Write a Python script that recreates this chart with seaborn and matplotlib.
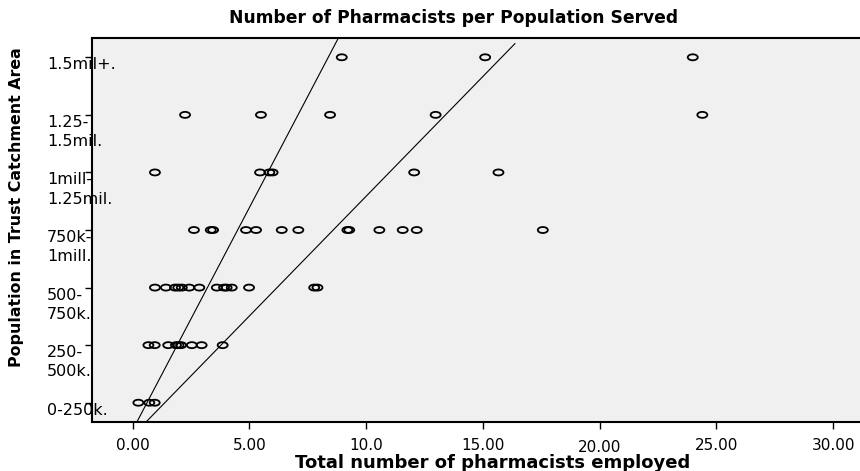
import numpy as np
import pandas as pd
import seaborn as sns
import matplotlib.pyplot as plt
from matplotlib.path import Path
from matplotlib.transforms import Affine2D, ScaledTranslation

# population bands (y categories, bottom to top)
population_bands = ["0-250k.", "250-\n500k.", "500-\n750k.", "750k-\n1mill.",
                    "1mill-\n1.25mil.", "1.25-\n1.5mil.", "1.5mil+."]

# total pharmacists employed, one list per band
band_0_250k = [0.25, 0.72, 0.95]
band_250_500k = [0.68, 0.95, 1.53, 1.86, 1.97, 2.08, 2.54, 2.96, 3.86]
band_500_750k = [0.96, 1.43, 1.82, 1.96, 2.11, 2.43, 2.86, 3.61, 3.92, 4.03,
                 4.25, 4.99, 7.78, 7.92]
band_750k_1m = [2.63, 3.35, 3.45, 4.86, 5.29, 6.39, 7.10, 9.20, 9.28, 10.57,
                11.57, 12.17, 17.57]
band_1m_125m = [0.96, 5.46, 5.86, 6.00, 12.06, 15.67]
band_125m_15m = [2.25, 5.50, 8.46, 12.98, 24.40]
band_15m_plus = [8.96, 15.10, 23.99]

# two fit lines drawn on the chart
fit_slopes = [0.773, 0.416]
fit_intercepts = [-0.479, -0.575]
fit_x_start = [-1.0, -1.0]
fit_x_end = [9.5, 16.38]

x_ticks = [0, 5, 10, 15, 20, 25, 30]
x_tick_labels = ["0.00", "5.00", "10.0", "15.00", "20.00", "25.00", "30.00"]

bands = [band_0_250k, band_250_500k, band_500_750k, band_750k_1m,
         band_1m_125m, band_125m_15m, band_15m_plus]
df = pd.DataFrame([(x, code) for code, vals in enumerate(bands) for x in vals],
                  columns=["pharmacists", "band"])

sns.set_style("ticks")
plt.rcParams["font.family"] = ["DejaVu Sans"]
plt.rcParams.update({"text.color": "black", "axes.labelcolor": "black",
                     "xtick.color": "black", "ytick.color": "black"})

fig = plt.figure(figsize=(8.6, 4.71), dpi=100)
ax = fig.add_axes([92 / 860, (471 - 422.3) / 471, (870 - 92) / 860, (422.3 - 38.3) / 471])
ax.set_facecolor("#f0f0f0")

ellipse = Path.unit_circle().transformed(Affine2D().scale(1.0, 0.6))
sns.scatterplot(data=df, x="pharmacists", y="band", marker=ellipse, s=52,
                facecolor="none", edgecolor="black", linewidth=1.3, ax=ax,
                zorder=3)

for slope, icpt, xs, xe in zip(fit_slopes, fit_intercepts, fit_x_start, fit_x_end):
    xx = np.array([xs, xe])
    sns.lineplot(x=xx, y=icpt + slope * xx, color="black", linewidth=0.8, ax=ax)

ax.set_xlim(-1.735, 31.58)
ax.set_ylim(-0.34, 6.33)
ax.set_xlabel("")
ax.set_ylabel("")

ax.set_xticks(x_ticks)
ax.set_xticklabels(x_tick_labels, fontsize=11)
ax.set_yticks(range(len(population_bands)))
ax.set_yticklabels(population_bands, fontsize=11.5, ha="left", va="top",
                   linespacing=1.35)
ax.tick_params(axis="x", direction="out", length=5, width=1, pad=6, colors="black")
ax.tick_params(axis="y", direction="out", length=5, width=1, pad=27.4, colors="black")

lab20 = ax.get_xticklabels()[4]
lab20.set_transform(lab20.get_transform() + ScaledTranslation(0, -1.8 / 72, fig.dpi_scale_trans))

for side in ["left", "bottom", "top"]:
    ax.spines[side].set_color("black")
    ax.spines[side].set_linewidth(1.5)
ax.spines["right"].set_visible(False)

fig.text(454 / 860, 1 - 18 / 471, "Number of Pharmacists per Population Served",
         ha="center", va="center", fontsize=12.3, fontweight="bold")
fig.text(493 / 860, 1 - 463 / 471, "Total number of pharmacists employed",
         ha="center", va="center", fontsize=13, fontweight="bold")
fig.text(17 / 860, 1 - 207 / 471, "Population in Trust Catchment Area",
         ha="center", va="center", rotation=90, fontsize=11.4, fontweight="bold")

fig.savefig("out.png", dpi=100)
plt.close(fig)
